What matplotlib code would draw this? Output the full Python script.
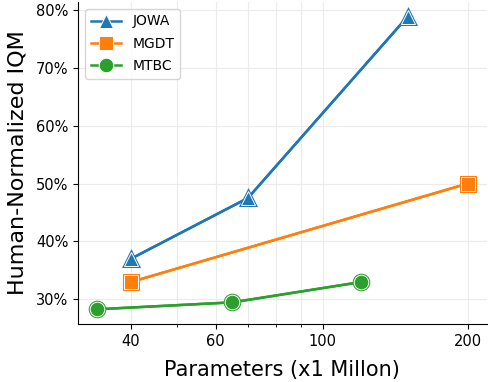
import matplotlib
matplotlib.use("Agg")
import matplotlib.pyplot as plt
from matplotlib.ticker import FuncFormatter, FixedLocator, NullFormatter

jowa_params = [40, 70, 150]
jowa_iqm = [37.0, 47.5, 78.8]
mgdt_params = [40, 200]
mgdt_iqm = [33.0, 50.0]
mtbc_params = [34, 65, 120]
mtbc_iqm = [28.3, 29.5, 33.0]

series = [
    ("JOWA", jowa_params, jowa_iqm, "#1f77b4", "^"),
    ("MGDT", mgdt_params, mgdt_iqm, "#ff7f0e", "s"),
    ("MTBC", mtbc_params, mtbc_iqm, "#2ca02c", "o"),
]
xticks = [40, 60, 100, 200]

fig, ax = plt.subplots(figsize=(4.88, 3.82), dpi=100)
for name, xs, ys, c, m in series:
    ax.plot(xs, ys, color=c, lw=1.8, marker=m, ms=10.5, mfc=c, mec=c, mew=2.2, zorder=3)
    ax.plot(xs, ys, color=c, lw=1.8, marker=m, ms=10.5, mfc=c, mec="white", mew=0.7,
            label=name, zorder=4)

ax.set_xscale("log")
ax.xaxis.set_major_locator(FixedLocator(xticks))
ax.xaxis.set_major_formatter(FuncFormatter(lambda v, p: f"{v:g}"))
ax.xaxis.set_minor_formatter(NullFormatter())
ax.yaxis.set_major_formatter(FuncFormatter(lambda v, p: f"{v:.0f}%"))
ax.set_yticks([30, 40, 50, 60, 70, 80])
ax.grid(True, which="both", color="#ebebeb", lw=0.8, zorder=0)
ax.set_axisbelow(True)
for s in ["top", "right"]:
    ax.spines[s].set_visible(False)
ax.tick_params(labelsize=10.5)
ax.set_xlabel("Parameters (x1 Millon)", fontsize=15, labelpad=8)
ax.set_ylabel("Human-Normalized IQM", fontsize=16, labelpad=6)
ax.legend(loc="upper left", fontsize=10, handlelength=2.2, labelspacing=0.6)
fig.subplots_adjust(left=0.16, right=0.997, top=0.995, bottom=0.152)
fig.savefig("out.png", dpi=100)
